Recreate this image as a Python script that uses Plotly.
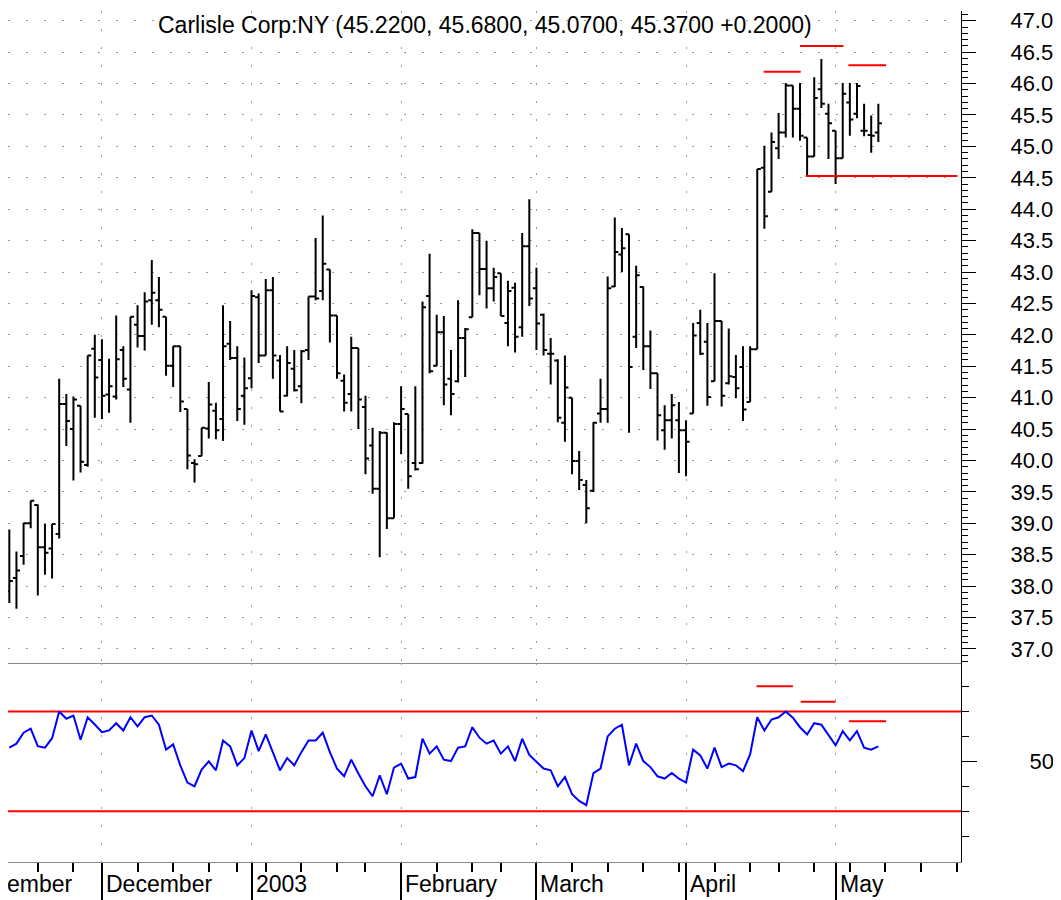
import plotly.graph_objects as go

# ---------------- data ----------------
opens = [37.92, 38.13, 38.48, 39.00, 39.29, 38.62, 38.60, 38.83, 40.90, 40.50,
         40.87, 39.93, 41.78, 41.60, 41.05, 41.02, 41.76, 41.13, 42.16, 41.98,
         42.55, 42.55, 42.29, 41.51, 41.82, 40.82, 39.96, 40.07, 40.51, 40.79,
         40.66, 41.86, 41.63, 41.03, 41.31, 42.60, 41.67, 42.71, 41.59, 41.03,
         41.46, 41.18, 41.76, 42.61, 42.70, 43.04, 42.31, 41.27, 41.06, 41.79,
         40.85, 40.24, 39.55, 40.44, 39.08, 40.58, 40.74, 39.96, 39.96, 42.62,
         41.51, 42.04, 41.30, 41.26, 41.95, 42.28, 43.62, 43.05, 42.74, 42.98,
         42.19, 42.75, 42.12, 43.41, 42.74, 42.32, 41.70, 41.59, 40.60, 41.00,
         39.99, 39.61, 39.52, 40.75, 40.82, 42.77, 43.28, 43.60, 41.97, 42.76,
         41.82, 41.39, 40.48, 40.64, 40.64, 40.48, 40.75, 42.19, 41.89, 41.26,
         42.22, 41.23, 41.33, 41.49, 40.93, 41.77, 44.66, 44.28, 44.97, 45.22,
         45.97, 45.60, 45.14, 44.84, 45.91, 45.52, 45.25, 44.81, 45.70, 45.52,
         45.25, 45.18, 45.22]
highs = [38.90, 38.55, 39.01, 39.36, 39.30, 38.99, 38.99, 41.30, 41.06, 41.02,
         40.87, 41.67, 42.00, 41.93, 41.62, 42.31, 41.82, 42.29, 42.47, 42.68,
         43.19, 42.92, 42.29, 41.82, 41.82, 40.82, 40.02, 40.52, 41.25, 40.92,
         42.47, 42.22, 41.82, 41.64, 42.71, 42.66, 42.89, 42.92, 41.68, 41.82,
         41.76, 41.76, 42.61, 43.54, 43.90, 43.04, 42.31, 41.37, 41.97, 41.79,
         41.03, 40.52, 40.47, 40.45, 40.61, 41.18, 40.74, 41.18, 42.53, 43.29,
         42.32, 42.30, 41.76, 42.55, 42.11, 43.68, 43.62, 43.50, 43.07, 42.98,
         42.86, 42.83, 43.62, 44.16, 43.07, 42.34, 41.95, 41.61, 41.67, 41.00,
         40.15, 39.69, 40.61, 41.30, 42.93, 43.87, 43.70, 43.60, 43.10, 42.77,
         42.07, 41.39, 40.88, 41.06, 40.93, 40.64, 42.19, 42.40, 42.19, 42.98,
         42.22, 42.10, 41.68, 41.82, 41.82, 44.64, 45.01, 45.22, 45.53, 46.01,
         45.97, 46.01, 45.14, 46.10, 46.39, 45.68, 45.25, 46.01, 46.01, 46.01,
         45.68, 45.49, 45.68]
lows = [37.73, 37.64, 38.34, 38.92, 37.85, 38.18, 38.12, 38.76, 40.23, 39.68,
        39.81, 39.90, 40.68, 40.66, 40.76, 40.97, 41.17, 40.60, 41.80, 41.75,
        42.16, 42.12, 41.35, 41.17, 40.77, 39.86, 39.65, 40.07, 40.35, 40.34,
        40.31, 41.60, 40.63, 40.57, 41.15, 41.55, 41.67, 41.30, 40.78, 41.02,
        41.10, 40.91, 41.60, 42.55, 42.55, 41.88, 41.30, 40.78, 40.78, 40.50,
        39.78, 39.47, 38.46, 38.91, 39.08, 40.10, 39.55, 39.84, 39.95, 41.39,
        41.50, 40.88, 40.72, 41.24, 41.33, 42.28, 42.63, 42.42, 42.53, 42.30,
        41.82, 41.72, 41.97, 42.46, 41.76, 41.67, 41.21, 40.61, 40.30, 39.78,
        39.53, 39.00, 39.50, 40.60, 40.60, 42.76, 43.00, 40.44, 41.79, 41.44,
        41.14, 40.32, 40.17, 40.35, 39.80, 39.75, 40.75, 41.68, 40.87, 41.26,
        40.86, 41.21, 40.99, 40.63, 40.93, 41.77, 43.69, 44.28, 44.80, 45.14,
        45.14, 45.09, 44.53, 44.84, 45.61, 44.80, 44.40, 44.81, 45.17, 45.45,
        45.16, 44.90, 45.07]
closes = [38.08, 38.25, 39.00, 39.36, 38.62, 38.53, 38.99, 40.90, 40.63, 40.97,
          39.98, 41.67, 41.32, 41.03, 41.18, 41.61, 41.30, 42.29, 41.98, 42.53,
          42.67, 42.40, 41.51, 41.82, 40.94, 40.08, 39.94, 40.52, 40.89, 40.48,
          41.82, 41.63, 40.82, 41.15, 42.62, 41.67, 42.71, 41.67, 40.78, 41.55,
          41.12, 41.74, 42.61, 42.58, 43.13, 42.31, 41.39, 40.92, 41.79, 40.97,
          40.03, 39.55, 40.44, 39.08, 40.58, 40.82, 39.75, 39.86, 42.44, 41.42,
          42.04, 41.21, 41.06, 41.95, 42.09, 43.62, 43.05, 42.74, 42.92, 42.30,
          42.70, 41.97, 43.41, 42.58, 42.18, 41.76, 41.70, 40.68, 41.16, 39.99,
          39.69, 39.24, 40.60, 40.82, 42.74, 43.32, 43.38, 41.49, 42.95, 41.82,
          41.39, 40.72, 40.64, 40.88, 40.48, 40.30, 41.99, 41.70, 41.01, 42.22,
          41.03, 41.34, 41.15, 40.81, 41.77, 44.64, 43.89, 45.07, 45.22, 45.97,
          45.60, 45.17, 44.84, 45.77, 45.68, 45.37, 44.81, 45.84, 45.43, 45.96,
          45.25, 45.17, 45.37]
rsi_values = [55.5, 57.1, 61.5, 63.1, 56.1, 55.5, 59.3, 70.0, 67.1, 68.4,
              58.7, 67.7, 64.8, 61.7, 62.4, 65.3, 62.4, 67.7, 64.0, 67.7,
              68.4, 64.7, 54.7, 56.8, 48.4, 41.5, 40.0, 46.7, 50.0, 46.4,
              58.4, 56.0, 48.4, 51.3, 62.4, 54.1, 60.8, 53.7, 46.4, 51.3,
              48.4, 53.7, 58.4, 58.4, 61.5, 53.7, 47.1, 44.0, 50.7, 45.1,
              40.0, 36.0, 44.4, 36.8, 47.5, 49.1, 43.1, 43.7, 59.1, 53.1,
              56.0, 50.7, 50.1, 55.5, 56.0, 63.7, 59.5, 57.1, 58.4, 53.1,
              56.0, 50.1, 59.1, 52.6, 49.7, 47.1, 46.4, 40.0, 43.7, 36.8,
              34.1, 32.4, 45.3, 47.1, 60.0, 63.1, 64.7, 48.4, 57.1, 50.1,
              47.7, 44.0, 43.1, 45.3, 43.1, 41.5, 54.7, 52.4, 47.1, 55.5,
              47.7, 49.1, 48.4, 46.1, 52.8, 67.7, 62.4, 66.8, 67.7, 70.0,
              67.5, 63.7, 60.8, 65.3, 64.7, 60.8, 56.4, 62.1, 58.4, 62.1,
              55.5, 54.7, 56.0]
bar_index = list(range(len(closes)))

# trading-day index of the first session of each month / week
month_start_idx = [13, 34, 55, 74, 95, 116]
month_labels = ["December", "2003", "February", "March", "April", "May"]
week_start_idx = [4, 9, 18, 23, 28, 32, 36, 41, 46, 50, 60, 65, 69, 79, 84, 89,
                  94, 99, 104, 108, 113, 118, 123, 128, 133]
price_ticks = [37.0, 37.5, 38.0, 38.5, 39.0, 39.5, 40.0, 40.5, 41.0, 41.5, 42.0,
               42.5, 43.0, 43.5, 44.0, 44.5, 45.0, 45.5, 46.0, 46.5, 47.0]
price_tick_text = ["%.1f" % v for v in price_ticks]
rsi_minor_ticks = [20, 30, 40, 60, 70, 80]
rsi_bands = [30, 70]

# red divergence / support markers
price_peak_level = [46.19, 46.60, 46.29]
price_peak_from = [105.9, 111.0, 117.8]
price_peak_to = [111.1, 117.1, 123.1]
rsi_peak_level = [80.1, 73.9, 66.1]
rsi_peak_from = [104.9, 111.1, 117.9]
rsi_peak_to = [110.0, 116.0, 123.1]
support_level = [44.53]
support_from = [111.8]
support_to = [133.1]

title_text = "Carlisle Corp:NY (45.2200, 45.6800, 45.0700, 45.3700 +0.2000)"

# ---------------- figure ----------------
# the page body adds an 8px offset, so the figure is sized 8px smaller
W, H = 1053, 892
ML, MR, MT, MB = 0, 100, 0, 38
plot_h = H - MT - MB
rsi_frac = 200 / plot_h
FONT = "Liberation Sans, Arial, sans-serif"
GRID = dict(showgrid=True, gridcolor="#9a9a9a", gridwidth=1, griddash="2px,16px")

fig = go.Figure()
fig.add_trace(go.Ohlc(
    x=bar_index, open=opens, high=highs, low=lows, close=closes,
    increasing=dict(line=dict(color="black", width=2)),
    decreasing=dict(line=dict(color="black", width=2)),
    tickwidth=0.5, xaxis="x", yaxis="y", showlegend=False, hoverinfo="skip"))
fig.add_trace(go.Scatter(
    x=bar_index, y=rsi_values, mode="lines",
    line=dict(color="#0000ff", width=2),
    xaxis="x2", yaxis="y2", showlegend=False, hoverinfo="skip"))

shapes = []
for lv in rsi_bands:
    shapes.append(dict(type="line", xref="paper", yref="y2", x0=0, x1=1, y0=lv, y1=lv,
                       line=dict(color="#ff0000", width=2), layer="below"))
for a, b, lv in zip(price_peak_from, price_peak_to, price_peak_level):
    shapes.append(dict(type="line", xref="x", yref="y", x0=a, x1=b, y0=lv, y1=lv,
                       line=dict(color="#ff0000", width=2)))
for a, b, lv in zip(rsi_peak_from, rsi_peak_to, rsi_peak_level):
    shapes.append(dict(type="line", xref="x2", yref="y2", x0=a, x1=b, y0=lv, y1=lv,
                       line=dict(color="#ff0000", width=2)))
for a, b, lv in zip(support_from, support_to, support_level):
    shapes.append(dict(type="line", xref="x", yref="y", x0=a, x1=b, y0=lv, y1=lv,
                       line=dict(color="#ff0000", width=2)))

label_y = -(876 - (H - MB)) / plot_h
annotations = []
for idx, lab in zip(month_start_idx, month_labels):
    annotations.append(dict(x=idx, xref="x2", y=label_y, yref="paper", text=lab,
                            showarrow=False, xanchor="left", yanchor="middle", xshift=2,
                            font=dict(family=FONT, size=23, color="black")))
annotations.append(dict(x=0, xref="paper", y=label_y, yref="paper", text="ember",
                        showarrow=False, xanchor="left", yanchor="middle", xshift=-3,
                        font=dict(family=FONT, size=23, color="black")))
annotations.append(dict(x=0.5, xref="paper", y=1 - 14 / plot_h, yref="paper",
                        text=title_text, showarrow=False, xanchor="center", yanchor="middle",
                        font=dict(family=FONT, size=23, color="black")))

x_range = [-0.187, 133.605]

fig.update_layout(
    width=W, height=H,
    margin=dict(l=ML, r=MR, t=MT, b=MB, pad=0),
    paper_bgcolor="white", plot_bgcolor="white",
    font=dict(family=FONT, size=22, color="black"),
    showlegend=False,
    shapes=shapes, annotations=annotations,
    xaxis=dict(domain=[0, 1], anchor="y", range=x_range, tickvals=month_start_idx,
               showticklabels=False, ticks="", showline=True, linecolor="#8a8a8a",
               linewidth=1, zeroline=False, rangeslider=dict(visible=False), **GRID),
    yaxis=dict(domain=[rsi_frac, 1], anchor="x", side="right", range=[36.781, 47.1555],
               tickvals=price_ticks, ticktext=price_tick_text, ticks="outside",
               ticklen=14, tickwidth=1, tickcolor="black",
               minor=dict(dtick=0.1, ticks="outside", ticklen=6, tickwidth=1,
                          tickcolor="black", showgrid=False),
               showline=True, linecolor="black", linewidth=1, zeroline=False,
               tickfont=dict(family=FONT, size=22, color="black"),
               ticklabeloverflow="allow",
               ticklabelstandoff=30, **GRID),
    xaxis2=dict(domain=[0, 1], anchor="y2", matches="x", range=x_range,
                tickvals=month_start_idx, showticklabels=False, ticks="outside",
                ticklen=38, tickwidth=2, tickcolor="black",
                minor=dict(tickvals=week_start_idx, ticks="outside", ticklen=9,
                           tickwidth=2, tickcolor="black", showgrid=False),
                showline=True, linecolor="#8a8a8a", linewidth=1, zeroline=False, **GRID),
    yaxis2=dict(domain=[0, rsi_frac], anchor="x2", side="right", range=[9.6, 89.6],
                tickvals=[50], ticktext=["50"], ticks="outside", ticklen=15,
                tickwidth=1, tickcolor="black",
                minor=dict(tickvals=rsi_minor_ticks, ticks="outside", ticklen=7,
                           tickwidth=1, tickcolor="black", showgrid=False),
                showgrid=False, showline=True, linecolor="black", linewidth=1,
                zeroline=False, tickfont=dict(family=FONT, size=22, color="black"),
                ticklabelstandoff=48),
)

fig.write_html("out.html", config={"displayModeBar": False})
